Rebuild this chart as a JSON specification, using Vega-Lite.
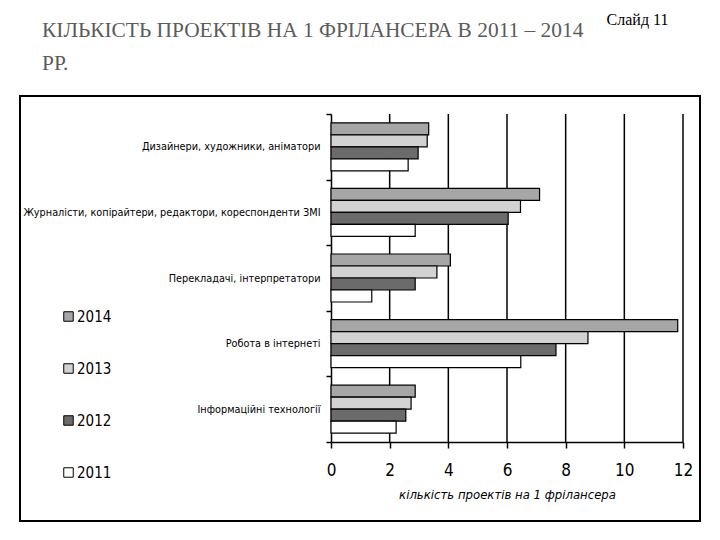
{
  "$schema": "https://vega.github.io/schema/vega-lite/v6.json",
  "width": 680,
  "height": 425,
  "autosize": {"type": "none"},
  "padding": {"left": 20, "top": 96, "right": 20, "bottom": 19},
  "background": "white",
  "title": {
    "text": ["КІЛЬКІСТЬ ПРОЕКТІВ НА 1 ФРІЛАНСЕРА В 2011 – 2014", "РР."],
    "anchor": "start",
    "frame": "group",
    "dx": 22,
    "dy": 90,
    "offset": 10,
    "font": "Liberation Serif",
    "fontSize": 21.4,
    "fontWeight": "normal",
    "color": "#5b5b5b",
    "lineHeight": 33,
    "baseline": "alphabetic"
  },
  "datasets": {
    "bars": [
      {"category": "Дизайнери, художники, аніматори", "year": "2014", "value": 3.33},
      {"category": "Дизайнери, художники, аніматори", "year": "2013", "value": 3.28},
      {"category": "Дизайнери, художники, аніматори", "year": "2012", "value": 2.97},
      {"category": "Дизайнери, художники, аніматори", "year": "2011", "value": 2.63},
      {"category": "Журналісти, копірайтери, редактори, кореспонденти ЗМІ", "year": "2014", "value": 7.11},
      {"category": "Журналісти, копірайтери, редактори, кореспонденти ЗМІ", "year": "2013", "value": 6.46},
      {"category": "Журналісти, копірайтери, редактори, кореспонденти ЗМІ", "year": "2012", "value": 6.04},
      {"category": "Журналісти, копірайтери, редактори, кореспонденти ЗМІ", "year": "2011", "value": 2.87},
      {"category": "Перекладачі, інтерпретатори", "year": "2014", "value": 4.07},
      {"category": "Перекладачі, інтерпретатори", "year": "2013", "value": 3.61},
      {"category": "Перекладачі, інтерпретатори", "year": "2012", "value": 2.87},
      {"category": "Перекладачі, інтерпретатори", "year": "2011", "value": 1.39},
      {"category": "Робота в інтернеті", "year": "2014", "value": 11.82},
      {"category": "Робота в інтернеті", "year": "2013", "value": 8.76},
      {"category": "Робота в інтернеті", "year": "2012", "value": 7.67},
      {"category": "Робота в інтернеті", "year": "2011", "value": 6.47},
      {"category": "Інформаційні технології", "year": "2014", "value": 2.87},
      {"category": "Інформаційні технології", "year": "2013", "value": 2.73},
      {"category": "Інформаційні технології", "year": "2012", "value": 2.55},
      {"category": "Інформаційні технології", "year": "2011", "value": 2.22}
    ],
    "grid": [{"tick": 2}, {"tick": 4}, {"tick": 6}, {"tick": 8}, {"tick": 10}, {"tick": 12}]
  },
  "layer": [
    {
      "data": {"name": "grid"},
      "mark": {"type": "rule", "color": "black", "strokeWidth": 1.5},
      "encoding": {
        "x": {"field": "tick", "type": "quantitative", "title": "кількість проектів на 1 фрілансера"},
        "y": {"datum": 0, "type": "quantitative", "scale": {"domain": [0, 1], "range": [346, 18]}, "axis": null},
        "y2": {"datum": 1}
      }
    },
    {
      "data": {"name": "bars"},
      "mark": {"type": "bar", "stroke": "black", "strokeWidth": 1.2},
      "encoding": {
        "y": {
          "field": "category",
          "type": "nominal",
          "sort": [
            "Дизайнери, художники, аніматори",
            "Журналісти, копірайтери, редактори, кореспонденти ЗМІ",
            "Перекладачі, інтерпретатори",
            "Робота в інтернеті",
            "Інформаційні технології"
          ],
          "scale": {"range": [18, 346], "paddingInner": 0, "paddingOuter": 0},
          "axis": {
            "title": "Слайд 11",
            "titleAngle": 0,
            "titleX": 306,
            "titleY": -72,
            "titleAlign": "center",
            "titleBaseline": "alphabetic",
            "titleFont": "Liberation Serif",
            "titleFontSize": 16,
            "titleFontWeight": "normal",
            "titleColor": "black",
            "offset": -311,
            "domainColor": "black",
            "domainWidth": 1.5,
            "tickColor": "black",
            "tickWidth": 1.5,
            "tickSize": 5,
            "tickBand": "extent",
            "labelFont": "DejaVu Sans Condensed",
            "labelFontSize": 10.8,
            "labelColor": "black",
            "labelLimit": 400,
            "labelPadding": 6,
            "grid": false
          }
        },
        "yOffset": {
          "field": "year",
          "type": "nominal",
          "sort": ["2014", "2013", "2012", "2011"],
          "scale": {"paddingInner": 0, "paddingOuter": 0.733}
        },
        "x": {
          "field": "value",
          "type": "quantitative",
          "scale": {"domain": [0, 12], "range": [311, 663], "nice": false},
          "axis": {
            "title": "кількість проектів на 1 фрілансера",
            "offset": -79,
            "values": [0, 2, 4, 6, 8, 10, 12],
            "format": "d",
            "grid": false,
            "domainColor": "black",
            "domainWidth": 1.5,
            "tickColor": "black",
            "tickWidth": 1.5,
            "tickSize": 6,
            "labelFont": "DejaVu Sans Condensed",
            "labelFontSize": 17,
            "labelColor": "black",
            "labelPadding": 14,
            "labelFlush": false,
            "titleFont": "DejaVu Sans Condensed",
            "titleFontStyle": "italic",
            "titleFontWeight": "normal",
            "titleFontSize": 13,
            "titleColor": "black",
            "titlePadding": 10
          }
        },
        "color": {
          "field": "year",
          "type": "nominal",
          "scale": {"domain": ["2014", "2013", "2012", "2011"], "range": ["#a6a6a6", "#d2d2d2", "#6b6b6b", "#ffffff"]},
          "legend": {
            "title": null,
            "orient": "none",
            "legendX": 41,
            "legendY": 213,
            "direction": "vertical",
            "symbolType": "square",
            "symbolSize": 90,
            "symbolStrokeColor": "black",
            "symbolStrokeWidth": 1,
            "labelFont": "DejaVu Sans Condensed",
            "labelFontSize": 15,
            "labelColor": "black",
            "rowPadding": 36,
            "labelOffset": 1,
            "padding": 0
          }
        }
      }
    }
  ],
  "resolve": {"scale": {"y": "independent"}, "axis": {"y": "independent"}},
  "config": {"view": {"stroke": "black", "strokeWidth": 2}}
}
